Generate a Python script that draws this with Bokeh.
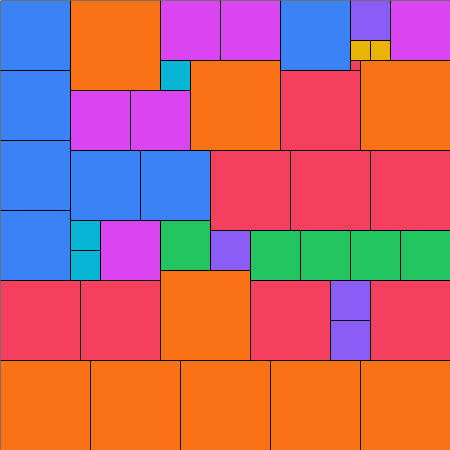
from bokeh.plotting import figure
from bokeh.models import Range1d, ColumnDataSource
from bokeh.embed import file_html
from bokeh.resources import INLINE

# Square packing: left, top, side length (pixel units of a 450x450 canvas), and group
left = [0, 0, 0, 0, 70, 160, 220, 160, 190, 70, 130, 280, 350, 350, 370, 390, 350,
        280, 360, 70, 140, 210, 290, 370, 70, 70, 100, 160, 210, 250, 300, 350, 400,
        0, 80, 160, 250, 330, 330, 370, 0, 90, 180, 270, 360]
top = [0, 70, 140, 210, 0, 0, 0, 60, 60, 90, 90, 0, 0, 40, 40, 0, 60,
       70, 60, 150, 150, 150, 150, 150, 220, 250, 220, 220, 230, 230, 230, 230, 230,
       280, 280, 270, 280, 280, 320, 280, 360, 360, 360, 360, 360]
size = [70, 70, 70, 70, 90, 60, 60, 30, 90, 60, 60, 70, 40, 20, 20, 60, 10,
        80, 90, 70, 70, 80, 80, 80, 30, 30, 60, 50, 40, 50, 50, 50, 50,
        80, 80, 90, 80, 40, 40, 80, 90, 90, 90, 90, 90]
group = ["blue", "blue", "blue", "blue", "orange", "magenta", "magenta", "cyan", "orange",
         "magenta", "magenta", "blue", "purple", "yellow", "yellow", "magenta", "red",
         "red", "orange", "blue", "blue", "red", "red", "red", "cyan", "cyan", "magenta",
         "green", "purple", "green", "green", "green", "green",
         "red", "red", "orange", "red", "purple", "purple", "red",
         "orange", "orange", "orange", "orange", "orange"]

palette = {
    "blue": "#3b82f6", "orange": "#f97316", "magenta": "#d946ef", "cyan": "#06b6d4",
    "purple": "#8b5cf6", "yellow": "#eab308", "red": "#f43f5e", "green": "#22c55e",
}

src = ColumnDataSource(dict(
    left=left,
    right=[l + s for l, s in zip(left, size)],
    top=top,
    bottom=[t + s for t, s in zip(top, size)],
    color=[palette[g] for g in group],
))

p = figure(width=450, height=450, output_backend="svg", toolbar_location=None,
           x_range=Range1d(0, 450), y_range=Range1d(450, 0),
           min_border=0, min_border_left=0, min_border_right=0,
           min_border_top=0, min_border_bottom=0)
p.axis.visible = False
p.grid.visible = False
p.outline_line_color = None
p.background_fill_color = "white"
p.border_fill_color = "white"

p.quad(left="left", right="right", top="top", bottom="bottom", source=src,
       fill_color="color", line_color="black", line_width=1)

html = file_html(p, INLINE)
html = html.replace("<head>", "<head><style>html,body{margin:0;padding:0;}</style>", 1)
open("out.html", "w").write(html)
